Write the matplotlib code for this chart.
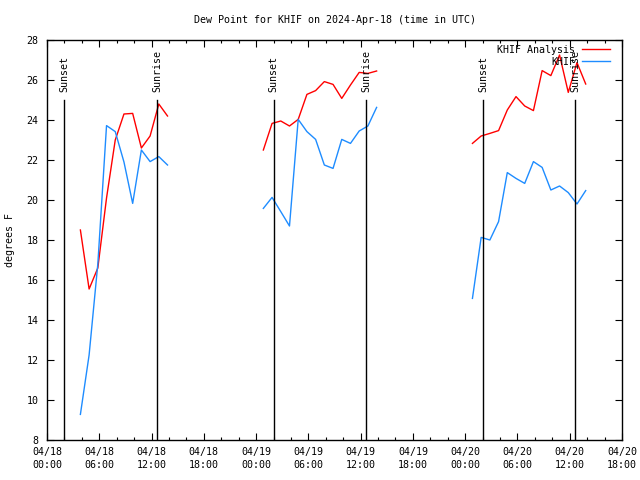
import matplotlib
matplotlib.use("Agg")
import matplotlib.pyplot as plt
import matplotlib.dates as mdates
import pandas as pd
import numpy as np

plt.rcParams['font.family'] = ['DejaVu Sans Mono']
FS = 7.2

title = "Dew Point for KHIF on 2024-Apr-18 (time in UTC)"
ylabel = "degrees F"

# segment start times (hourly observations)
seg_starts = ["2024-04-18 03:50", "2024-04-19 00:50", "2024-04-20 00:50"]

analysis_1 = [18.5, 15.55, 16.6, 20.1, 23.0, 24.3, 24.33, 22.6, 23.2, 24.8, 24.2]
analysis_2 = [22.5, 23.83, 23.95, 23.7, 24.03, 25.28, 25.47, 25.92, 25.78, 25.08, 25.75, 26.38, 26.33, 26.45]
analysis_3 = [22.83, 23.2, 23.33, 23.47, 24.5, 25.17, 24.7, 24.47, 26.47, 26.22, 27.25, 25.38, 26.87, 25.8]

obs_1 = [9.28, 12.25, 16.8, 23.72, 23.42, 21.9, 19.83, 22.5, 21.92, 22.17, 21.75]
obs_2 = [19.58, 20.13, 19.42, 18.7, 24.03, 23.42, 23.03, 21.75, 21.58, 23.03, 22.83, 23.45, 23.7, 24.63]
obs_3 = [15.08, 18.13, 18.0, 18.92, 21.37, 21.08, 20.83, 21.92, 21.63, 20.5, 20.7, 20.37, 19.8, 20.47]

sunsets = ["2024-04-18 02:00", "2024-04-19 02:01", "2024-04-20 02:03"]
sunrises = ["2024-04-18 12:39", "2024-04-19 12:38", "2024-04-20 12:36"]
sun_line_top = 25.0

x_start = "2024-04-18 00:00"
x_end = "2024-04-20 18:00"
y_min, y_max = 8, 28
y_ticks = list(range(8, 29, 2))

fig = plt.figure(figsize=(6.4, 4.8), dpi=100)
ax = fig.add_axes([47/640, 40/480, 575/640, 400/480])

red = '#ff0000'
blue = '#1e8cff'

for i, (st, a, o) in enumerate(zip(seg_starts, [analysis_1, analysis_2, analysis_3], [obs_1, obs_2, obs_3])):
    t = pd.date_range(st, periods=len(a), freq='h')
    ax.plot(t, a, color=red, lw=1.0, label="KHIF Analysis" if i == 0 else None)
    t2 = pd.date_range(st, periods=len(o), freq='h')
    ax.plot(t2, o, color=blue, lw=1.0, label="KHIF" if i == 0 else None)

for s in sunsets:
    ts = pd.Timestamp(s)
    ax.plot([ts, ts], [y_min, sun_line_top], color='black', lw=1.0)
    ax.text(ts, 25.4, "Sunset", rotation=90, ha='center', va='bottom', fontsize=FS)
for s in sunrises:
    ts = pd.Timestamp(s)
    ax.plot([ts, ts], [y_min, sun_line_top], color='black', lw=1.0)
    ax.text(ts, 25.4, "Sunrise", rotation=90, ha='center', va='bottom', fontsize=FS)

ax.set_xlim(pd.Timestamp(x_start), pd.Timestamp(x_end))
ax.set_ylim(y_min, y_max)
ax.set_yticks(y_ticks)
ax.xaxis.set_major_locator(mdates.HourLocator(byhour=[0, 6, 12, 18]))
ax.xaxis.set_minor_locator(mdates.HourLocator(byhour=range(0, 24, 2)))
ax.xaxis.set_major_formatter(mdates.DateFormatter('%m/%d\n%H:%M'))

ax.tick_params(axis='both', which='major', direction='in', length=5, width=0.8,
               top=True, right=True, labelsize=FS, pad=6)
ax.tick_params(axis='both', which='minor', direction='in', length=2.5, width=0.8,
               top=True, right=True)
ax.tick_params(axis='x', which='major', pad=5)
for sp in ax.spines.values():
    sp.set_linewidth(1.0)

ax.set_title(title, fontsize=FS, pad=12.5)
fig.text(10/640, 0.5, ylabel, rotation=90, ha='center', va='center', fontsize=FS)

leg = ax.legend(loc='upper right', frameon=False, fontsize=FS, markerfirst=False,
                handlelength=2.8, handletextpad=0.7, labelspacing=0.2,
                borderpad=0.5, borderaxespad=0, bbox_to_anchor=(1 - 7/575, 1))

fig.canvas.draw()
for lab in ax.get_xticklabels():
    lab.set_linespacing(1.4)

fig.savefig("out.png", dpi=100)
